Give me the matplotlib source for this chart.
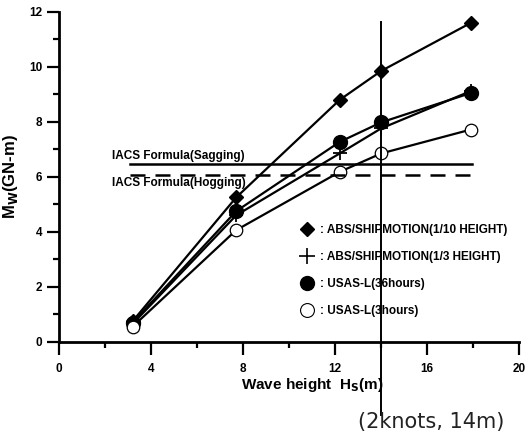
import numpy as np
import matplotlib
matplotlib.use('Agg')
import matplotlib.pyplot as plt
from matplotlib.lines import Line2D

plt.rcParams['font.family'] = ['Liberation Sans', 'DejaVu Sans']
plt.rcParams['font.weight'] = 'bold'

# wave height Hs (m)
hs = [3.2, 7.7, 12.2, 14.0, 17.9]
# bending moment Mw (GN-m)
abs_10 = [0.75, 5.25, 8.8, 9.85, 11.6]    # ABS/SHIPMOTION 1/10 height
abs_3 = [0.65, 4.6, 6.85, 7.76, 9.12]     # ABS/SHIPMOTION 1/3 height
usas_36 = [0.7, 4.75, 7.27, 7.98, 9.05]   # USAS-L 36 hours
usas_3 = [0.55, 4.06, 6.18, 6.85, 7.72]   # USAS-L 3 hours
iacs_sag = 6.45
iacs_hog = 6.08
iacs_x = [3.1, 17.95]

fig = plt.figure(figsize=(5.27, 4.41), dpi=100)
ax = fig.add_axes([0.112, 0.225, 0.873, 0.748])

ax.plot(hs, abs_10, color='k', lw=1.6, marker='D', ms=7, mfc='k', mec='k')
ax.plot(hs, abs_3, color='k', lw=1.6, marker='+', ms=10, mew=1.3)
ax.plot(hs, usas_36, color='k', lw=1.6, marker='o', ms=10, mfc='k', mec='k')
ax.plot(hs, usas_3, color='k', lw=1.6, marker='o', ms=9, mfc='white', mec='k', mew=0.9)

ax.plot(iacs_x, [iacs_sag, iacs_sag], color='k', lw=1.8)
ax.plot(iacs_x, [iacs_hog, iacs_hog], color='k', lw=1.8, dashes=(6, 4))
ax.text(2.3, iacs_sag + 0.1, 'IACS Formula(Sagging)', fontsize=8.5, va='bottom')
ax.text(2.3, iacs_hog - 0.1, 'IACS Formula(Hogging)', fontsize=8.5, va='top')

# vertical marker at 14 m
ax.plot([14, 14], [-2.65, 11.65], color='k', lw=1.4, clip_on=False, zorder=5)
fig.text(0.818, 0.043, '(2knots, 14m)', fontsize=15, fontweight='normal',
         ha='center', va='center', family='DejaVu Sans', color='#222222')

ax.set_xlim(0, 20)
ax.set_ylim(0, 12)
ax.set_xticks([0, 4, 8, 12, 16, 20])
ax.set_xticks([2, 6, 10, 14, 18], minor=True)
ax.set_yticks([0, 2, 4, 6, 8, 10, 12])
ax.set_yticks([1, 3, 5, 7, 9, 11], minor=True)
for s in ['top', 'right']:
    ax.spines[s].set_visible(False)
for s in ['left', 'bottom']:
    ax.spines[s].set_linewidth(2)
ax.tick_params(which='major', direction='out', length=9, width=1.6, labelsize=8.5, pad=3)
ax.tick_params(which='minor', direction='out', length=4.5, width=1.6)
ax.tick_params(axis='x', which='major', pad=6)

ax.set_xlabel('Wave height  H$_\\mathbf{S}$(m)', fontsize=11, fontweight='bold')
ax.xaxis.set_label_coords(0.55, -0.105)
ax.set_ylabel('M$_\\mathbf{W}$(GN-m)', fontsize=12, fontweight='bold')
ax.yaxis.set_label_coords(-0.085, 0.5)

handles = [
    Line2D([], [], ls='none', marker='D', ms=7, color='k'),
    Line2D([], [], ls='none', marker='+', ms=12, mew=1.2, color='k'),
    Line2D([], [], ls='none', marker='o', ms=10, color='k'),
    Line2D([], [], ls='none', marker='o', ms=10, mfc='white', mec='k', mew=0.8),
]
labels = [': ABS/SHIPMOTION(1/10 HEIGHT)', ': ABS/SHIPMOTION(1/3 HEIGHT)',
          ': USAS-L(36hours)', ': USAS-L(3hours)']
leg = ax.legend(handles, labels, loc='upper left', bbox_to_anchor=(0.51, 0.37),
                frameon=False, fontsize=8.5, handlelength=1.4, handletextpad=0.4,
                labelspacing=1.25, borderaxespad=0)

fig.savefig('out.png', dpi=100)
